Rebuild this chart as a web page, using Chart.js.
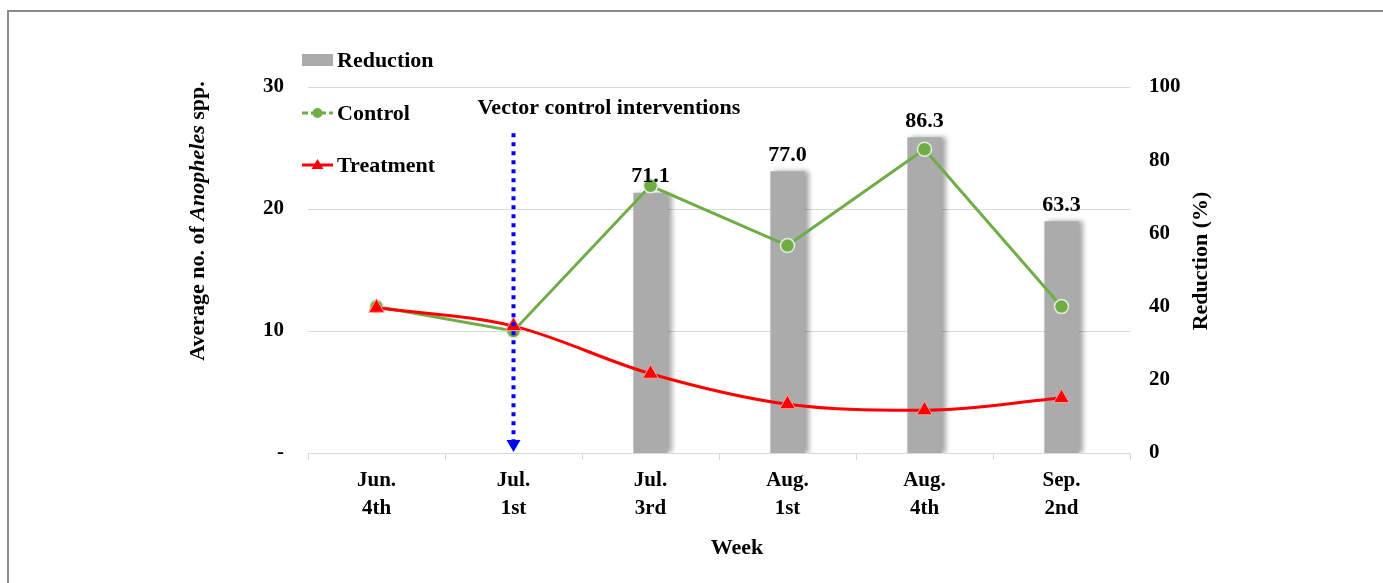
<!DOCTYPE html>
<html>
<head>
<meta charset="utf-8">
<script src="https://cdn.jsdelivr.net/npm/chart.js@4.4.0/dist/chart.umd.min.js"></script>
<style>
    html, body { margin: 0; padding: 0; background: #fff; }
    .wrap { position: relative; width: 1383px; height: 583px; overflow: hidden; }
    .frame { position: absolute; left: 7px; top: 10px; width: 1420px; height: 620px;
             border-left: 2px solid #8a8a8a; border-top: 2px solid #8a8a8a; }
    canvas { position: absolute; left: 0; top: 0; }
</style>
</head>
<body>
<div class="wrap">
    <div class="frame"></div>
    <canvas id="chart" width="1383" height="583"></canvas>
</div>
<script>
// ── DATA ──
const weeks      = [['Jun.', '4th'], ['Jul.', '1st'], ['Jul.', '3rd'], ['Aug.', '1st'], ['Aug.', '4th'], ['Sep.', '2nd']];
const reduction  = [null, null, 71.1, 77.0, 86.3, 63.3];
const control    = [12.0, 10.0, 21.9, 17.0, 24.9, 12.0];
const treatment  = [11.9, 10.4, 6.5, 4.0, 3.5, 4.5];
const leftTicks  = [0, 10, 20, 30];
const rightTicks = [0, 20, 40, 60, 80, 100];

const interventionWeek = 1;      // index of Jul. 1st
const arrowTopValue    = 26.2;   // left axis units
const interventionText = 'Vector control interventions';

// ── STYLE ──
const SERIF = '"Liberation Serif", "Times New Roman", serif';
const font  = (size) => ({ family: SERIF, size: size, weight: 'bold', lineHeight: 1.35 });
const TXT   = 'bold 22px ' + SERIF;
const GREEN = '#70ad47';
const RED   = '#ff0000';
const GRAY  = '#ababab';
const GRID  = '#d9d9d9';

// ── PLUGINS ──
const barShadow = {
    id: 'barShadow',
    beforeDatasetDraw(chart, args) {
        if (args.index !== 0) return;
        const ctx = chart.ctx;
        ctx.save();
        ctx.shadowColor = 'rgba(0,0,0,0.35)';
        ctx.shadowBlur = 5;
        ctx.shadowOffsetX = 4;
        ctx.shadowOffsetY = 0;
    },
    afterDatasetDraw(chart, args) {
        if (args.index !== 0) return;
        chart.ctx.restore();
    }
};

const extras = {
    id: 'extras',
    afterDatasetsDraw(chart) {
        const ctx = chart.ctx;
        const x = chart.scales.x, y = chart.scales.y;

        // bar value labels
        ctx.save();
        ctx.font = TXT;
        ctx.fillStyle = '#000';
        ctx.textAlign = 'center';
        ctx.textBaseline = 'bottom';
        chart.getDatasetMeta(0).data.forEach((bar, i) => {
            if (reduction[i] == null) return;
            ctx.fillText(reduction[i].toFixed(1), bar.x, bar.y - 5);
        });
        ctx.restore();

        // intervention arrow
        const ax = x.getPixelForValue(interventionWeek);
        const top = y.getPixelForValue(arrowTopValue);
        const bottom = y.getPixelForValue(0);
        ctx.save();
        ctx.strokeStyle = '#0000ff';
        ctx.lineWidth = 4;
        ctx.setLineDash([4, 5]);
        ctx.beginPath();
        ctx.moveTo(ax, top);
        ctx.lineTo(ax, bottom - 12);
        ctx.stroke();
        ctx.setLineDash([]);
        ctx.fillStyle = '#0000ff';
        ctx.beginPath();
        ctx.moveTo(ax - 7, bottom - 13);
        ctx.lineTo(ax + 7, bottom - 13);
        ctx.lineTo(ax, bottom - 1);
        ctx.closePath();
        ctx.fill();

        ctx.font = TXT;
        ctx.fillStyle = '#000';
        ctx.textAlign = 'left';
        ctx.textBaseline = 'middle';
        ctx.fillText(interventionText, ax - 36, top - 25);
        ctx.restore();
    },
    afterDraw(chart) {
        const ctx = chart.ctx;
        const area = chart.chartArea;

        // legend
        ctx.save();
        const lx = area.left - 6, lw = 31;
        const rows = [area.top - 27, area.top + 26, area.top + 78];
        ctx.font = TXT;
        ctx.textAlign = 'left';
        ctx.textBaseline = 'middle';

        ctx.fillStyle = GRAY;
        ctx.fillRect(lx, rows[0] - 6, lw, 12);

        ctx.strokeStyle = GREEN; ctx.lineWidth = 3;
        ctx.setLineDash([6, 3]);
        ctx.beginPath(); ctx.moveTo(lx, rows[1]); ctx.lineTo(lx + lw, rows[1]); ctx.stroke();
        ctx.setLineDash([]);
        ctx.fillStyle = GREEN;
        ctx.beginPath(); ctx.arc(lx + lw / 2, rows[1], 5, 0, Math.PI * 2); ctx.fill();

        ctx.strokeStyle = RED; ctx.lineWidth = 3;
        ctx.beginPath(); ctx.moveTo(lx, rows[2]); ctx.lineTo(lx + lw, rows[2]); ctx.stroke();
        ctx.fillStyle = RED;
        ctx.beginPath();
        ctx.moveTo(lx + lw / 2, rows[2] - 6);
        ctx.lineTo(lx + lw / 2 + 6, rows[2] + 4);
        ctx.lineTo(lx + lw / 2 - 6, rows[2] + 4);
        ctx.closePath(); ctx.fill();

        ctx.fillStyle = '#000';
        ['Reduction', 'Control', 'Treatment'].forEach((t, i) => ctx.fillText(t, lx + lw + 4, rows[i] + 1));

        // x title
        ctx.textAlign = 'center';
        ctx.fillText('Week', (area.left + area.right) / 2 + 18, area.bottom + 95);

        // right title
        ctx.save();
        ctx.translate(area.right + 71, (area.top + area.bottom) / 2 - 9);
        ctx.rotate(-Math.PI / 2);
        ctx.fillText('Reduction (%)', 0, 0);
        ctx.restore();

        // left title, with italic genus
        const parts = [['Average no. of ', ''], ['Anopheles', 'italic '], [' spp.', '']];
        const widths = parts.map(p => {
            ctx.font = p[1] + TXT;
            return ctx.measureText(p[0]).width;
        });
        const total = widths.reduce((a, b) => a + b, 0);
        ctx.save();
        ctx.translate(area.left - 110, (area.top + area.bottom) / 2 - 49);
        ctx.rotate(-Math.PI / 2);
        ctx.textAlign = 'left';
        let cx = -total / 2;
        parts.forEach((p, i) => {
            ctx.font = p[1] + TXT;
            ctx.fillText(p[0], cx, 0);
            cx += widths[i];
        });
        ctx.restore();
        ctx.restore();
    }
};

// ── CHART ──
new Chart(document.getElementById('chart'), {
    data: {
        labels: weeks,
        datasets: [
            {
                type: 'bar', label: 'Reduction', data: reduction, yAxisID: 'y1',
                backgroundColor: GRAY, barPercentage: 0.25, categoryPercentage: 1, order: 3
            },
            {
                type: 'line', label: 'Control', data: control, yAxisID: 'y',
                borderColor: GREEN, borderWidth: 3, tension: 0,
                pointStyle: 'circle', pointRadius: 7, pointBackgroundColor: GREEN,
                pointBorderColor: '#e2f0d9', pointBorderWidth: 1.5, order: 2
            },
            {
                type: 'line', label: 'Treatment', data: treatment, yAxisID: 'y',
                borderColor: RED, borderWidth: 3, cubicInterpolationMode: 'monotone',
                pointStyle: 'triangle', pointRadius: 9, pointBackgroundColor: RED,
                pointBorderColor: '#ff9f9f', pointBorderWidth: 1, order: 1
            }
        ]
    },
    options: {
        responsive: false,
        animation: false,
        layout: { padding: { top: 87, left: 0, right: 0, bottom: 0 } },
        plugins: { legend: { display: false }, tooltip: { enabled: false } },
        scales: {
            x: {
                offset: true,
                grid: { display: true, drawOnChartArea: false, offset: true, tickLength: 7, color: GRID },
                border: { color: GRID },
                ticks: { font: font(21), color: '#000', padding: 6, maxRotation: 0, autoSkip: false },
                afterFit: s => { s.height = 130; }
            },
            y: {
                position: 'left', min: 0, max: 30,
                afterBuildTicks: s => { s.ticks = leftTicks.map(v => ({ value: v })); },
                ticks: { font: font(21), color: '#000', padding: 24, callback: v => v === 0 ? '-' : v },
                grid: { color: GRID, drawTicks: false },
                border: { display: false },
                afterFit: s => { s.width = 308; }
            },
            y1: {
                position: 'right', min: 0, max: 100,
                afterBuildTicks: s => { s.ticks = rightTicks.map(v => ({ value: v })); },
                ticks: { font: font(21), color: '#000', padding: 19 },
                grid: { display: false, drawTicks: false },
                border: { display: false },
                afterFit: s => { s.width = 253; }
            }
        }
    },
    plugins: [barShadow, extras]
});
</script>
</body>
</html>
